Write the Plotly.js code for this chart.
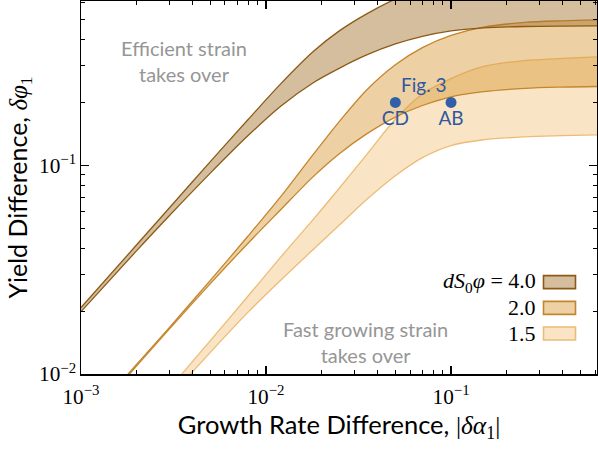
<!DOCTYPE html>
<html>
<head>
<meta charset="utf-8">
<script src="https://cdn.plot.ly/plotly-3.0.1.min.js"></script>
<style>html,body{margin:0;padding:0;background:#fff;}#chart{width:598px;height:451px;}</style>
</head>
<body>
<div id="chart"></div>
<script>
// growth rate difference |δα1| grid
const xGrid = [0.001, 0.002, 0.003, 0.005, 0.008, 0.012, 0.018, 0.025, 0.035, 0.05, 0.07, 0.1, 0.15, 0.25, 0.4, 0.62];
// dS0φ = 4.0 band
const upper40 = [0.0208, 0.0416, 0.0624, 0.1040, 0.1656, 0.2454, 0.3506, 0.4413, 0.5310, 0.6257, 0.7063, 0.7777, 0.8298, 0.860, 0.8722, 0.876];
const lower40 = [0.0199, 0.0390, 0.0573, 0.0917, 0.1387, 0.1918, 0.2486, 0.2921, 0.3375, 0.3811, 0.4145, 0.4404, 0.4549, 0.4619, 0.4641, 0.4647];
// dS0φ = 2.0 band
const upper20 = [0.00556, 0.01113, 0.01669, 0.0281, 0.0458, 0.0707, 0.1127, 0.1628, 0.2295, 0.303, 0.366, 0.419, 0.459, 0.483, 0.492, 0.497];
const lower20 = [0.00547, 0.01094, 0.01641, 0.02708, 0.04232, 0.0612, 0.0882, 0.1139, 0.1413, 0.1701, 0.1933, 0.2128, 0.2252, 0.2334, 0.2367, 0.2383];
// dS0φ = 1.5 band
const upper15 = [0.00284, 0.00568, 0.00851, 0.01445, 0.02364, 0.03629, 0.0550, 0.0780, 0.1125, 0.166, 0.2194, 0.26, 0.2973, 0.317, 0.3247, 0.3305];
const lower15 = [0.00257, 0.00514, 0.00771, 0.01269, 0.01978, 0.02811, 0.0395, 0.05186, 0.06853, 0.0891, 0.1088, 0.1243, 0.1325, 0.1368, 0.1386, 0.1399];
// Fig. 3 points
const figX = [0.05, 0.1];
const figY = [0.2, 0.2];
const figLabels = ['CD', 'AB'];
const legendLabels = ['<i>dS</i><sub>0</sub><i>φ</i> = 4.0', '2.0', '1.5'];

const bands = [
  {lo: lower15, hi: upper15, line: 'rgb(236,188,118)', fill: 'rgba(240,190,110,0.40)'},
  {lo: lower20, hi: upper20, line: 'rgb(196,134,44)', fill: 'rgba(215,150,50,0.45)'},
  {lo: lower40, hi: upper40, line: 'rgb(140,90,22)', fill: 'rgba(160,110,40,0.45)'}
];

const traces = [];
bands.forEach(b => {
  traces.push({x: xGrid, y: b.lo, type: 'scatter', mode: 'lines', line: {color: b.line, width: 1.3, shape: 'spline', smoothing: 0.9}, hoverinfo: 'skip', showlegend: false});
  traces.push({x: xGrid, y: b.hi, type: 'scatter', mode: 'lines', fill: 'tonexty', fillcolor: b.fill, line: {color: b.line, width: 1.3, shape: 'spline', smoothing: 0.9}, hoverinfo: 'skip', showlegend: false});
});
const blue = 'rgb(48,88,158)';
traces.push({x: figX, y: figY, type: 'scatter', mode: 'markers+text', text: figLabels, textposition: 'bottom center',
  textfont: {family: 'Lato, DejaVu Sans, sans-serif', size: 19, color: blue},
  marker: {color: 'rgb(50,96,168)', size: 11}, showlegend: false});

const sans = 'Lato, DejaVu Sans, sans-serif';
const serif = 'Liberation Serif, DejaVu Serif, serif';
const grey = 'rgb(150,150,150)';

const annotations = [
  {xref: 'paper', yref: 'paper', x: (184-81)/516, y: 1-(61-1)/373.5, xanchor: 'center', yanchor: 'middle', text: 'Efficient strain<br>takes over', showarrow: false, font: {family: sans, size: 20, color: grey}, align: 'center'},
  {xref: 'paper', yref: 'paper', x: (365-81)/516, y: 1-(342-1)/373.5, xanchor: 'center', yanchor: 'middle', text: 'Fast growing strain<br>takes over', showarrow: false, font: {family: sans, size: 20, color: grey}, align: 'center'},
  {x: Math.log10(0.071), y: Math.log10(0.243), xanchor: 'center', yanchor: 'middle', text: 'Fig. 3', showarrow: false, font: {family: sans, size: 19, color: blue}}
];
const swatchY = [282.5, 308.3, 334];
const shapes = [];
legendLabels.forEach((t, i) => {
  const b = bands[2 - i];
  annotations.push({xref: 'paper', yref: 'paper', x: (538-81)/516, y: 1-(swatchY[i]-1)/373.5, xanchor: 'right', yanchor: 'middle', text: t, showarrow: false, font: {family: serif, size: 22, color: 'black'}});
  shapes.push({type: 'rect', xref: 'paper', yref: 'paper', x0: (543.5-81)/516, x1: (575.5-81)/516, y0: 1-(swatchY[i]-6.5-1)/373.5, y1: 1-(swatchY[i]+6.5-1)/373.5, line: {color: b.line, width: 1.6}, fillcolor: b.fill});
});

const axisCommon = {
  type: 'log', showline: true, linecolor: 'black', linewidth: 1.5, mirror: 'allticks',
  ticks: 'inside', ticklen: 8, tickwidth: 1.3, tickcolor: 'black', dtick: 1,
  exponentformat: 'power', showgrid: false, zeroline: false,
  tickfont: {family: serif, size: 17, color: 'black'},
  minor: {ticks: 'inside', ticklen: 4, tickwidth: 1, tickcolor: 'black', showgrid: false}
};

const layout = {
  width: 598, height: 451,
  margin: {l: 81, r: 1, t: 1, b: 76.5},
  paper_bgcolor: 'white', plot_bgcolor: 'white',
  showlegend: false,
  xaxis: Object.assign({}, axisCommon, {range: [-3, Math.log10(0.615)], ticklabelstandoff: 4,
    title: {text: 'Growth Rate Difference, <span style="font-family:Liberation Serif">|<i>δα</i><sub>1</sub>|</span>', font: {family: sans, size: 25.5, color: 'black'}, standoff: 1}}),
  yaxis: Object.assign({}, axisCommon, {range: [-2, Math.log10(0.612)],
    title: {text: 'Yield Difference, <span style="font-family:Liberation Serif"><i>δφ</i><sub>1</sub></span>', font: {family: sans, size: 25, color: 'black'}, standoff: 4}}),
  annotations: annotations,
  shapes: shapes
};

Plotly.newPlot('chart', traces, layout, {displayModeBar: false, staticPlot: true});
</script>
</body>
</html>
